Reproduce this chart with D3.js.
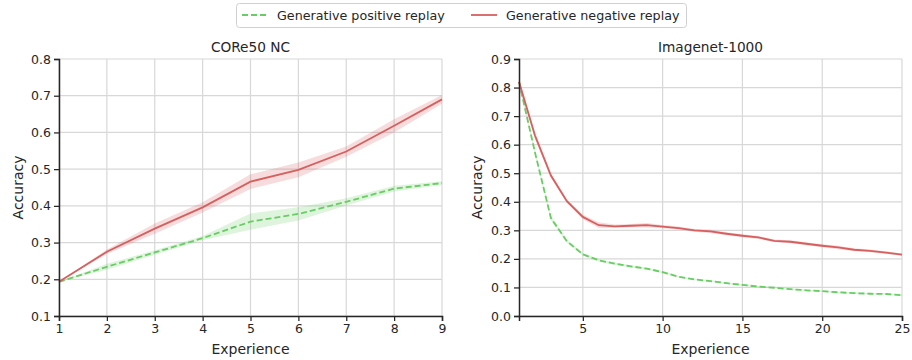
<!DOCTYPE html>
<html>
<head>
<meta charset="utf-8">
<script src="https://cdn.jsdelivr.net/npm/d3@7"></script>
<style>
  body { margin: 0; background: white; }
  svg { font-family: "DejaVu Sans", sans-serif; }
</style>
</head>
<body>
<svg width="912" height="360"></svg>
<script>
// data
var seriesNames = ['Generative positive replay', 'Generative negative replay'];

var coreX = [1, 2, 3, 4, 5, 6, 7, 8, 9];
var corePos = [0.193, 0.234, 0.273, 0.312, 0.357, 0.378, 0.411, 0.447, 0.462];
var corePosErr = [0.0, 0.008, 0.006, 0.006, 0.022, 0.018, 0.01, 0.008, 0.005];
var coreNeg = [0.193, 0.275, 0.338, 0.396, 0.466, 0.498, 0.548, 0.618, 0.69];
var coreNegErr = [0.0, 0.006, 0.014, 0.014, 0.02, 0.02, 0.014, 0.018, 0.012];

var imgX = [1, 2, 3, 4, 5, 6, 7, 8, 9, 10, 11, 12, 13, 14, 15, 16, 17, 18, 19, 20, 21, 22, 23, 24, 25];
var imgPos = [0.82, 0.573, 0.343, 0.262, 0.216, 0.195, 0.183, 0.174, 0.166, 0.154, 0.137, 0.128, 0.122,
              0.115, 0.109, 0.103, 0.099, 0.094, 0.09, 0.087, 0.083, 0.08, 0.078, 0.077, 0.073];
var imgPosErr = [0.01, 0.01, 0.008, 0.006, 0.005, 0.004, 0.004, 0.004, 0.004, 0.004, 0.003, 0.003, 0.003,
                 0.003, 0.003, 0.003, 0.003, 0.003, 0.003, 0.003, 0.003, 0.003, 0.003, 0.003, 0.003];
var imgNeg = [0.82, 0.632, 0.492, 0.402, 0.347, 0.318, 0.314, 0.316, 0.318, 0.313, 0.308, 0.3, 0.296,
              0.288, 0.281, 0.275, 0.263, 0.26, 0.253, 0.246, 0.24, 0.232, 0.228, 0.222, 0.215];
var imgNegErr = [0.01, 0.012, 0.008, 0.006, 0.008, 0.01, 0.006, 0.006, 0.008, 0.006, 0.005, 0.005, 0.006,
                 0.005, 0.005, 0.005, 0.005, 0.005, 0.005, 0.005, 0.006, 0.005, 0.005, 0.005, 0.004];

var coreYTicks = [0.1, 0.2, 0.3, 0.4, 0.5, 0.6, 0.7, 0.8];
var coreXTicks = [1, 2, 3, 4, 5, 6, 7, 8, 9];
var imgYTicks = [0.0, 0.1, 0.2, 0.3, 0.4, 0.5, 0.6, 0.7, 0.8, 0.9];
var imgXTicks = [5, 10, 15, 20, 25];

var green = '#6acc64', red = '#d65f5f';
var ink = '#262626';
var dashed = '6,3';

var svg = d3.select('svg');

function drawPanel(opt) {
    var x = d3.scaleLinear().domain(opt.xDomain).range([opt.left, opt.right]);
    var y = d3.scaleLinear().domain(opt.yDomain).range([opt.bottom, opt.top]);
    var g = svg.append('g');

    // grid
    g.selectAll('.gx').data(opt.xTicks).enter().append('line')
        .attr('x1', d => x(d)).attr('x2', d => x(d))
        .attr('y1', opt.top).attr('y2', opt.bottom)
        .attr('stroke', '#d8d8d8').attr('stroke-width', 1.2);
    g.selectAll('.gy').data(opt.yTicks).enter().append('line')
        .attr('x1', opt.left).attr('x2', opt.right)
        .attr('y1', d => y(d)).attr('y2', d => y(d))
        .attr('stroke', '#d8d8d8').attr('stroke-width', 1.2);

    // bands + lines
    var series = [
        {v: opt.pos, e: opt.posErr, c: green, dash: dashed},
        {v: opt.neg, e: opt.negErr, c: red, dash: null}
    ];
    series.forEach(function(s) {
        var area = d3.area()
            .x((d, i) => x(opt.xs[i]))
            .y0((d, i) => y(d - s.e[i]))
            .y1((d, i) => y(d + s.e[i]));
        g.append('path').datum(s.v).attr('d', area)
            .attr('fill', s.c).attr('opacity', 0.22);
    });
    series.forEach(function(s) {
        var line = d3.line().x((d, i) => x(opt.xs[i])).y(d => y(d));
        g.append('path').datum(s.v).attr('d', line)
            .attr('fill', 'none').attr('stroke', s.c).attr('stroke-width', 1.8)
            .attr('stroke-dasharray', s.dash);
    });

    // axes
    var xAxis = g.append('g').attr('transform', 'translate(0,' + opt.bottom + ')')
        .call(d3.axisBottom(x).tickValues(opt.xTicks).tickSize(5).tickPadding(3).tickFormat(d3.format('d')));
    var yAxis = g.append('g').attr('transform', 'translate(' + opt.left + ',0)')
        .call(d3.axisLeft(y).tickValues(opt.yTicks).tickSize(5).tickPadding(3).tickFormat(d3.format('.1f')));
    [xAxis, yAxis].forEach(function(a) {
        a.select('.domain').attr('stroke', ink).attr('stroke-width', 1.5);
        a.selectAll('.tick line').attr('stroke', ink).attr('stroke-width', 1.25);
        a.selectAll('.tick text').attr('fill', ink).style('font-size', '12.5px')
            .style('font-family', '"DejaVu Sans", sans-serif');
    });

    g.append('text').attr('x', (opt.left + opt.right) / 2).attr('y', opt.top - 7)
        .attr('text-anchor', 'middle').attr('fill', ink).style('font-size', '13.7px').text(opt.title);
    g.append('text').attr('x', (opt.left + opt.right) / 2).attr('y', opt.bottom + 38)
        .attr('text-anchor', 'middle').attr('fill', ink).style('font-size', '14px').text('Experience');
    g.append('text')
        .attr('transform', 'translate(' + opt.ylabX + ',' + ((opt.top + opt.bottom) / 2) + ') rotate(-90)')
        .attr('text-anchor', 'middle').attr('fill', ink).style('font-size', '14px').text('Accuracy');
}

drawPanel({
    title: 'CORe50 NC', left: 59, right: 442, top: 59, bottom: 316, ylabX: 22.5,
    xDomain: [1, 9], yDomain: [0.1, 0.8], xTicks: coreXTicks, yTicks: coreYTicks,
    xs: coreX, pos: corePos, posErr: corePosErr, neg: coreNeg, negErr: coreNegErr
});
drawPanel({
    title: 'Imagenet-1000', left: 519, right: 902, top: 59, bottom: 316, ylabX: 481.5,
    xDomain: [1, 25], yDomain: [0.0, 0.9], xTicks: imgXTicks, yTicks: imgYTicks,
    xs: imgX, pos: imgPos, posErr: imgPosErr, neg: imgNeg, negErr: imgNegErr
});

// legend
var lg = svg.append('g');
lg.append('rect').attr('x', 236.5).attr('y', 3.5).attr('width', 450).attr('height', 24)
    .attr('rx', 3).attr('fill', 'white').attr('stroke', '#d0d0d0');
var legendItems = [{name: seriesNames[0], c: green, dash: dashed, x: 242},
                   {name: seriesNames[1], c: red, dash: null, x: 471}];
legendItems.forEach(function(it) {
    lg.append('line').attr('x1', it.x).attr('x2', it.x + 26).attr('y1', 15).attr('y2', 15)
        .attr('stroke', it.c).attr('stroke-width', 1.8).attr('stroke-dasharray', it.dash);
    lg.append('text').attr('x', it.x + 35).attr('y', 19.5).attr('fill', ink)
        .style('font-size', '12.7px').text(it.name);
});
</script>
</body>
</html>
